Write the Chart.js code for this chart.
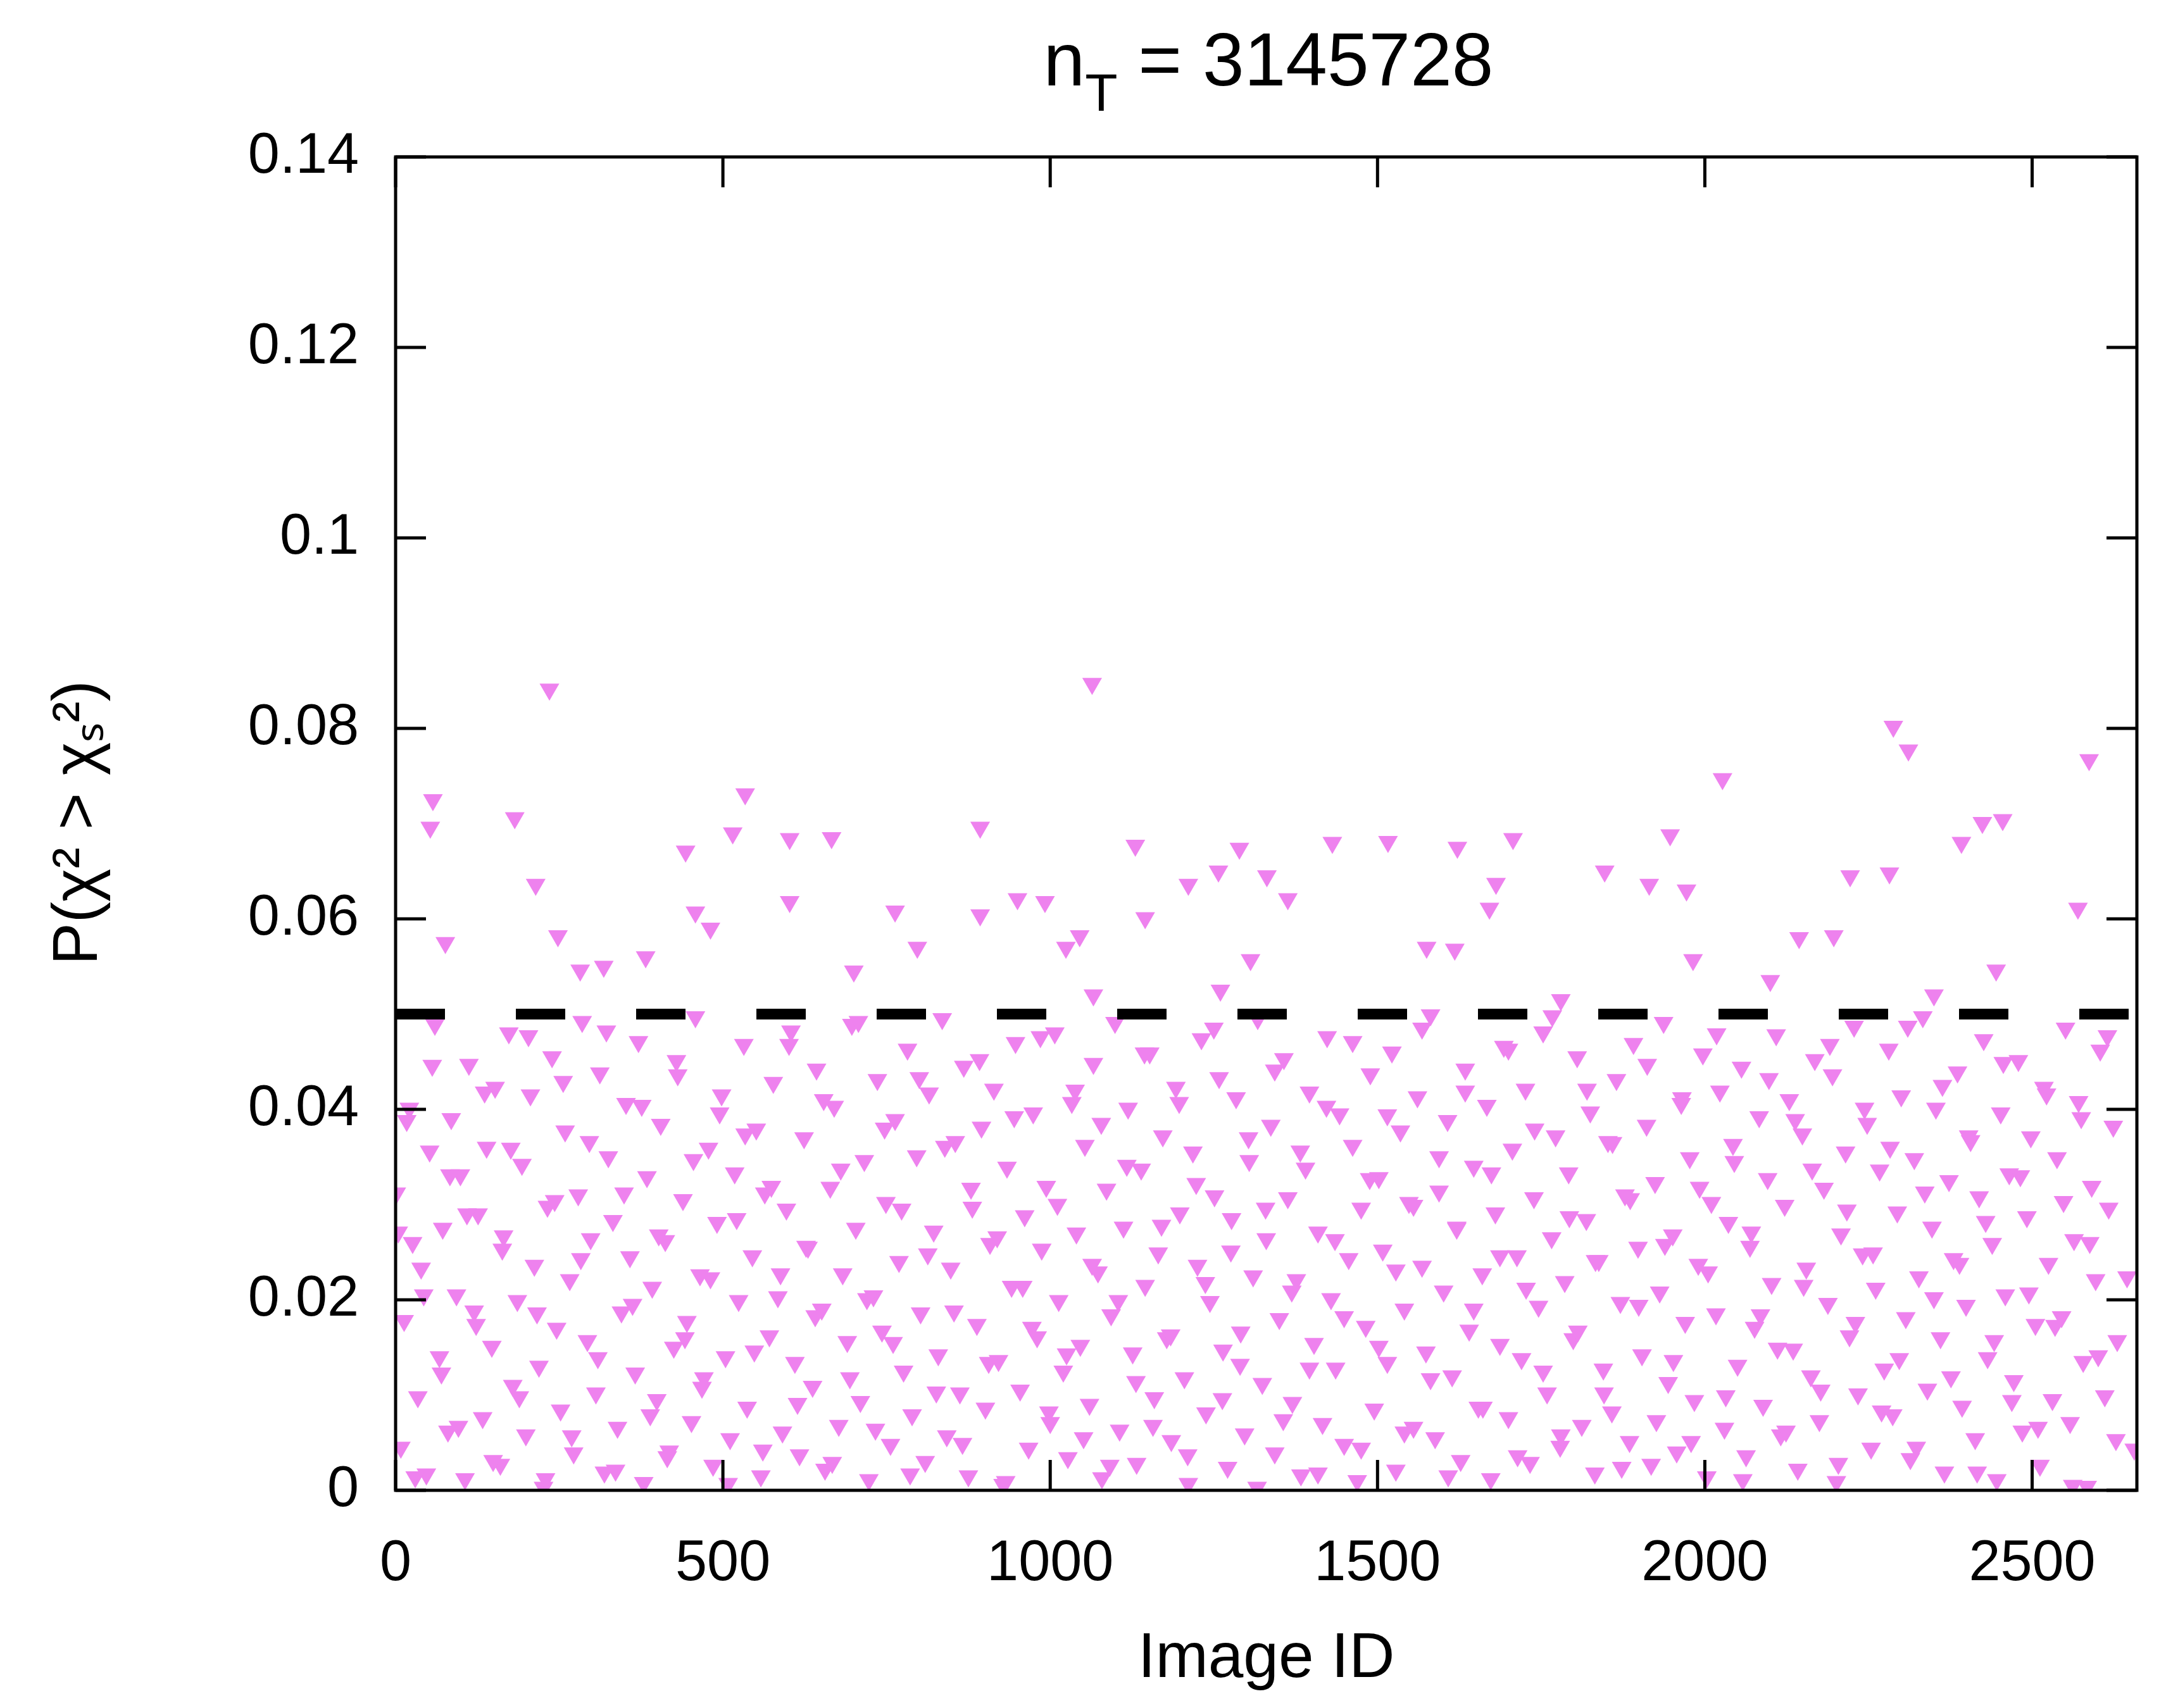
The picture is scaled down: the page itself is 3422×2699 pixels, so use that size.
<!DOCTYPE html>
<html><head><meta charset="utf-8">
<script src="https://cdn.jsdelivr.net/npm/chart.js@4/dist/chart.umd.min.js"></script>
<style>html,body{margin:0;background:#fff}canvas{display:block}</style>
</head><body>
<canvas id="c" width="3422" height="2699"></canvas>
<script>
const titleMain = "n", titleSub = "T", titleRest = " = 3145728";
const xTitle = "Image ID";
const yTitle = "P(χ² > χₛ²)";
const threshold = 0.05;
const yTicks = [0, 0.02, 0.04, 0.06, 0.08, 0.1, 0.12, 0.14];
const xTicks = [0, 500, 1000, 1500, 2000, 2500];

// bulk points: image IDs and p-values in units of 1e-4
const imageIds = [
1,8,13,21,26,34,39,47,52,60,67,72,80,85,93,99,106,112,120,126,
133,139,147,152,160,165,173,179,186,193,199,206,212,219,226,232,239,246,252,259,
266,272,279,285,293,298,306,312,319,325,332,339,345,352,358,366,371,379,384,392,
399,405,412,418,425,431,439,445,452,458,465,471,478,485,491,498,504,511,518,524,
532,537,545,551,558,564,571,577,584,591,597,604,610,617,624,630,637,643,651,656,
664,670,677,683,690,697,703,710,716,723,730,736,743,749,756,763,769,776,782,789,
796,802,809,815,822,829,835,842,848,855,862,868,875,881,888,895,901,908,914,921,
928,934,941,947,954,961,967,974,980,987,994,1000,1007,1013,1020,1027,1033,1040,1046,1053,
1060,1066,1073,1079,1086,1093,1099,1106,1112,1119,1126,1132,1139,1145,1152,1159,1165,1172,1178,1185,
1192,1198,1205,1211,1218,1225,1231,1238,1244,1251,1258,1264,1271,1277,1284,1291,1297,1304,1310,1317,
1324,1330,1337,1343,1350,1357,1363,1370,1376,1383,1390,1396,1403,1409,1416,1423,1429,1436,1442,1449,
1456,1462,1469,1475,1482,1489,1495,1502,1508,1515,1522,1528,1535,1541,1548,1555,1561,1568,1574,1581,
1588,1594,1601,1607,1614,1621,1627,1634,1640,1647,1654,1660,1667,1673,1680,1687,1693,1700,1706,1713,
1720,1726,1733,1739,1746,1753,1759,1766,1772,1779,1786,1792,1799,1805,1812,1819,1825,1832,1838,1845,
1852,1858,1865,1871,1878,1885,1891,1898,1904,1911,1918,1924,1931,1937,1944,1951,1957,1964,1970,1977,
1984,1990,1997,2003,2010,2017,2023,2030,2036,2043,2050,2056,2063,2069,2076,2083,2089,2096,2102,2109,
2116,2122,2129,2135,2142,2149,2155,2162,2168,2175,2182,2188,2195,2201,2208,2215,2221,2228,2234,2241,
2248,2254,2261,2267,2274,2281,2287,2294,2300,2307,2314,2320,2327,2333,2340,2347,2353,2360,2366,2373,
2380,2386,2393,2399,2406,2413,2419,2426,2432,2439,2446,2452,2459,2465,2472,2479,2485,2492,2498,2505,
2512,2518,2525,2531,2538,2545,2551,2558,2564,2571,2578,2584,2591,2597,2604,2611,2617,2624,2630,2656
];
const pValuesE4 = [
312,45,178,401,260,98,233,17,356,489,140,275,62,390,205,331,12,447,188,290,
76,360,151,423,27,267,480,110,199,342,58,415,236,130,3,298,455,170,84,377,
221,39,310,492,157,264,102,438,19,350,283,66,187,406,245,123,471,8,329,213,
95,384,262,41,150,436,305,177,72,497,226,118,359,26,281,415,140,54,333,199,
468,87,246,379,15,312,162,428,203,61,295,482,134,37,370,255,109,442,190,22,
318,403,68,227,156,489,275,93,346,11,204,431,167,302,48,389,240,125,463,79,
351,186,30,417,272,142,495,57,233,366,102,445,15,297,174,381,86,259,421,136,
6,339,214,470,105,288,44,396,161,253,319,71,480,199,125,34,407,270,152,362,
90,448,229,13,316,184,491,63,276,401,144,28,337,215,459,97,249,372,160,52,
423,291,118,7,355,236,474,81,198,309,433,147,24,285,412,166,59,346,225,495,
112,264,383,39,180,453,307,92,221,16,338,418,154,271,70,476,201,128,395,48,
243,362,10,296,172,437,85,328,252,134,460,21,377,190,302,66,413,235,145,499,
55,314,209,388,120,275,31,442,168,340,87,227,404,12,291,153,466,76,358,246,
138,421,29,307,193,481,102,265,372,46,219,333,159,455,68,284,397,18,241,127,
366,82,431,197,310,51,469,255,142,383,27,323,208,491,113,268,40,406,176,349,
94,237,458,14,302,185,419,65,281,363,131,444,36,256,171,392,89,327,217,478,
58,299,410,148,22,374,233,120,452,73,317,196,436,9,269,355,162,487,101,248,
385,44,212,336,127,463,79,292,414,181,33,348,224,497,106,276,401,160,19,325,
243,439,88,194,367,54,308,473,139,259,11,396,205,332,115,451,62,287,371,174,
26,423,238,95,349,182,485,71,263,408,135,4,319,221,462,99,296,382,157,43
];
// second batch of bulk points
const imageIds2 = [
4,17,30,43,56,70,83,96,109,123,136,149,163,176,189,203,216,229,243,256,
269,283,296,309,322,336,349,362,376,389,402,415,429,442,455,468,481,495,508,521,
534,548,561,574,588,601,614,627,641,654,667,680,694,707,720,733,747,760,773,786,
800,813,826,839,853,866,879,892,906,919,932,945,958,972,985,998,1011,1025,1038,1051,
1064,1078,1091,1104,1117,1131,1144,1157,1170,1184,1197,1210,1223,1237,1250,1263,1276,1290,1303,1316,
1329,1343,1356,1369,1382,1396,1409,1422,1435,1449,1462,1475,1488,1502,1515,1528,1541,1555,1568,1581,
1594,1608,1621,1634,1647,1661,1674,1687,1700,1714,1727,1740,1753,1767,1780,1793,1806,1820,1833,1846,
1859,1873,1886,1899,1912,1926,1939,1952,1965,1979,1992,2005,2018,2032,2045,2058,2071,2085,2098,2111,
2124,2138,2151,2164,2177,2191,2204,2217,2230,2244,2257,2270,2283,2297,2310,2323,2336,2350,2363,2376,
2389,2403,2416,2429,2442,2456,2469,2482,2495,2509,2522,2535,2548,2562,2575,2588,2601,2615,2628,2645
];
const pValuesE4b = [
271,388,14,205,446,123,331,67,290,174,418,31,253,359,98,477,186,12,304,429,
57,243,366,139,482,21,312,195,404,79,268,35,451,160,347,108,223,396,7,285,
374,146,42,319,227,468,91,256,183,410,29,337,118,492,201,64,380,155,295,17,
433,248,103,361,188,49,317,452,134,266,9,392,214,171,476,82,300,143,420,55,
237,385,26,199,341,114,459,68,278,163,407,37,322,218,485,96,251,132,370,3,
296,441,74,209,356,128,18,403,263,182,471,44,327,151,394,231,61,299,485,117,
350,15,276,419,190,87,333,246,463,36,212,379,125,498,58,287,167,421,241,102,
365,24,306,194,447,73,258,136,412,51,318,229,479,99,345,11,271,184,432,149,
62,389,215,337,105,468,28,294,176,401,249,83,360,138,487,45,313,202,425,119,
238,372,19,282,157,449,94,330,207,66,416,173,303,5,391,260,141,477,53,224
];
// points above the 0.05 line
const outlierIds = [235,1064,57,53,76,182,214,248,534,515,443,458,481,382,318,282,602,602,666,763,797,893,893,950,992,1024,1045,1066,1130,1145,1211,1257,1289,1331,1306,1363,1431,1516,1622,1707,1681,1671,1618,1575,1847,1947,1915,1972,2027,1982,2144,2197,2222,2288,2311,2282,2392,2424,2455,2445,2570,2587,700,1260,1780,2100,2350];
const outlierValues = [0.0841,0.0847,0.0725,0.0696,0.0575,0.0706,0.0636,0.0582,0.0731,0.069,0.0671,0.0607,0.059,0.056,0.055,0.0546,0.0684,0.0618,0.0685,0.0608,0.057,0.0696,0.0604,0.0621,0.0618,0.057,0.0582,0.052,0.0677,0.0601,0.0636,0.065,0.0674,0.0645,0.0557,0.0621,0.068,0.0681,0.0675,0.0684,0.0637,0.0611,0.0568,0.057,0.065,0.0688,0.0636,0.063,0.0747,0.0557,0.058,0.0582,0.0645,0.0802,0.0777,0.0648,0.068,0.0701,0.0704,0.0546,0.0611,0.0767,0.0545,0.0525,0.0515,0.0535,0.052];

const pts = imageIds.map((x,i)=>({x, y: pValuesE4[i]/10000}))
  .concat(imageIds2.map((x,i)=>({x, y: pValuesE4b[i]/10000})))
  .concat(outlierIds.map((x,i)=>({x, y: outlierValues[i]})));

const PINK = '#ee82ee';
const FONT = '"Liberation Sans", Arial, sans-serif';

const framePlugin = {
  id: 'frame',
  afterDatasetsDraw(chart) {
    const {ctx, chartArea: a, scales: {x, y}} = chart;
    ctx.save();
    ctx.strokeStyle = '#000'; ctx.lineWidth = 5;
    ctx.strokeRect(a.left, a.top, a.right - a.left, a.bottom - a.top);
    const L = 48;
    ctx.beginPath();
    yTicks.forEach(v => { const p = y.getPixelForValue(v);
      ctx.moveTo(a.left, p); ctx.lineTo(a.left + L, p);
      ctx.moveTo(a.right, p); ctx.lineTo(a.right - L, p); });
    xTicks.forEach(v => { const p = x.getPixelForValue(v);
      ctx.moveTo(p, a.bottom); ctx.lineTo(p, a.bottom - L);
      ctx.moveTo(p, a.top); ctx.lineTo(p, a.top + L); });
    ctx.stroke();
    ctx.fillStyle = '#000'; ctx.textBaseline = 'alphabetic';
    ctx.font = '118px ' + FONT;
    const w1 = ctx.measureText(titleMain).width;
    ctx.font = '84px ' + FONT;
    const w2 = ctx.measureText(titleSub).width;
    ctx.font = '118px ' + FONT;
    const w3 = ctx.measureText(titleRest).width;
    let sx = 2004 - (w1 + w2 + w3) / 2;
    ctx.textAlign = 'left';
    ctx.fillText(titleMain, sx, 135);
    ctx.font = '84px ' + FONT; ctx.fillText(titleSub, sx + w1, 175);
    ctx.font = '118px ' + FONT; ctx.fillText(titleRest, sx + w1 + w2, 135);
    ctx.font = '100px ' + FONT; ctx.textAlign = 'center'; ctx.textBaseline = 'middle';
    ctx.fillText(xTitle, (a.left + a.right) / 2, 2622);
    ctx.translate(125, 1300); ctx.rotate(-Math.PI / 2);
    ctx.fillText(yTitle, 0, 0);
    ctx.restore();
  }
};

new Chart(document.getElementById('c'), {
  data: {
    datasets: [
      { type: 'line', data: [{x:0,y:threshold},{x:2660,y:threshold}], borderColor: '#000',
        borderWidth: 17, borderDash: [78, 112], pointRadius: 0, order: 0 },
      { type: 'scatter', data: pts, backgroundColor: PINK, borderColor: PINK, borderWidth: 0,
        pointStyle: 'triangle', rotation: 180, pointRadius: 18, order: 1 }
    ]
  },
  options: {
    responsive: false, animation: false, devicePixelRatio: 1,
    layout: { padding: { top: 248, right: 46, left: 0, bottom: 0 } },
    plugins: { legend: { display: false }, tooltip: { enabled: false } },
    scales: {
      x: { type: 'linear', min: 0, max: 2660,
        afterBuildTicks: s => { s.ticks = xTicks.map(v => ({value: v})); },
        afterFit: s => { s.height = 344; },
        grid: { display: false }, border: { display: false },
        ticks: { color: '#000', font: { family: FONT, size: 90 }, padding: 55, maxRotation: 0,
          callback: v => String(v) } },
      y: { type: 'linear', min: 0, max: 0.14,
        afterBuildTicks: s => { s.ticks = yTicks.map(v => ({value: v})); },
        afterFit: s => { s.width = 625; },
        grid: { display: false }, border: { display: false },
        ticks: { color: '#000', font: { family: FONT, size: 90 }, padding: 50,
          callback: v => String(Number(v.toFixed(2))) } }
    }
  },
  plugins: [framePlugin]
});
</script>
</body></html>
